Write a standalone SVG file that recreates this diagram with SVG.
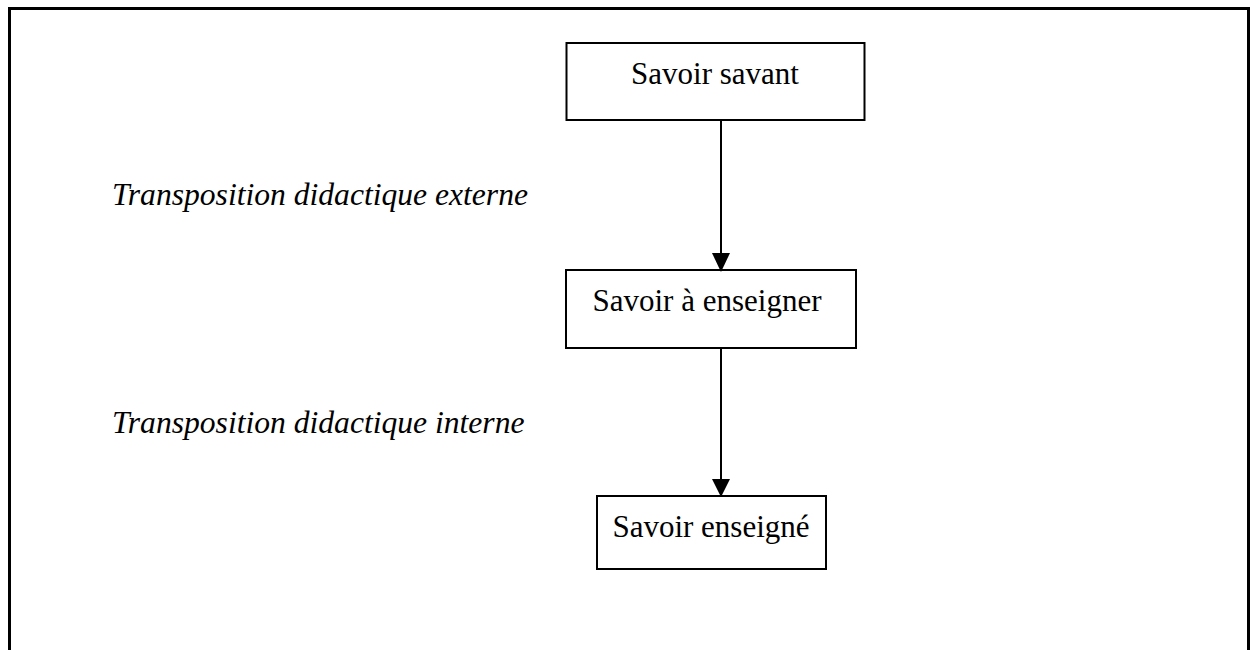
<svg xmlns="http://www.w3.org/2000/svg" width="1250" height="650" viewBox="0 0 1250 650">
<defs>
<style>
.box{fill:#fff;stroke:#000;stroke-width:2}
.lbl{font-family:"Liberation Serif","Times New Roman",serif;font-size:31px;fill:#000}
.it{font-family:"Liberation Serif","Times New Roman",serif;font-size:31.6px;font-style:italic;fill:#000}
.con{stroke:#000;stroke-width:2;fill:none}
</style>
</defs>
<rect width="1250" height="650" fill="#fff"/>
<path d="M9.5,650 V8.5 H1248.5 V650" fill="none" stroke="#000" stroke-width="3"/>
<g id="n1">
<rect class="box" x="566.5" y="43" width="298" height="77"/>
<text class="lbl" x="715" y="84" text-anchor="middle">Savoir savant</text>
</g>
<g id="n2">
<rect class="box" x="566" y="270" width="290" height="78"/>
<text class="lbl" x="707" y="311" text-anchor="middle">Savoir à enseigner</text>
</g>
<g id="n3">
<rect class="box" x="597" y="496" width="229" height="73"/>
<text class="lbl" x="711" y="537" text-anchor="middle">Savoir enseigné</text>
</g>
<g id="labels">
<text class="it" x="112" y="205">Transposition didactique externe</text>
<text class="it" x="112" y="433">Transposition didactique interne</text>
</g>
<g id="connectors">
<line class="con" x1="721" y1="121" x2="721" y2="253"/>
<path d="M712,253 L730,253 L721,272 Z" fill="#000"/>
<line class="con" x1="721" y1="349" x2="721" y2="479"/>
<path d="M712,479 L730,479 L721,497 Z" fill="#000"/>
</g>
</svg>
